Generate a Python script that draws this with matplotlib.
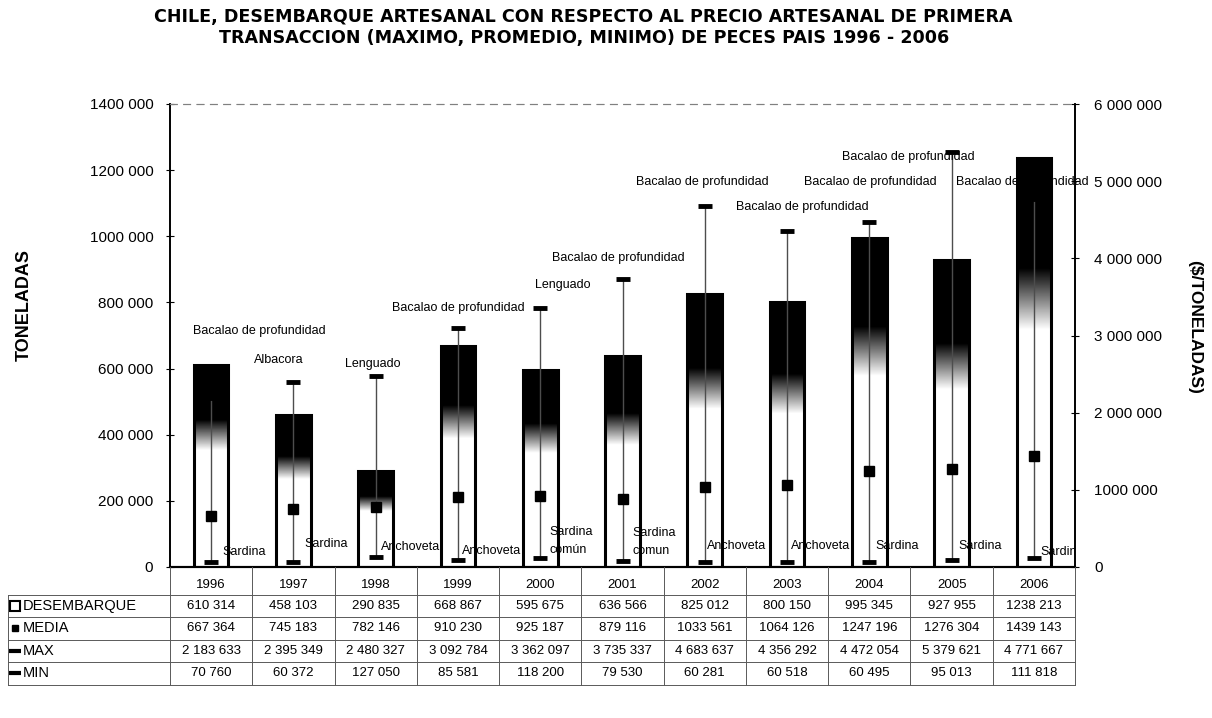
import numpy as np
import matplotlib
matplotlib.use('Agg')
import matplotlib.pyplot as plt
from matplotlib.transforms import blended_transform_factory
from matplotlib.lines import Line2D

plt.rcParams['font.family'] = ['Liberation Sans', 'DejaVu Sans']

# ---------------- data ----------------
years = ['1996', '1997', '1998', '1999', '2000', '2001', '2002', '2003', '2004', '2005', '2006']
desembarque = [610314, 458103, 290835, 668867, 595675, 636566, 825012, 800150, 995345, 927955, 1238213]
media = [667364, 745183, 782146, 910230, 925187, 879116, 1033561, 1064126, 1247196, 1276304, 1439143]
maximo = [2183633, 2395349, 2480327, 3092784, 3362097, 3735337, 4683637, 4356292, 4472054, 5379621, 4771667]
minimo = [70760, 60372, 127050, 85581, 118200, 79530, 60281, 60518, 60495, 95013, 111818]
max_species = ['Bacalao de profundidad', 'Albacora', 'Lenguado', 'Bacalao de profundidad', 'Lenguado',
               'Bacalao de profundidad', 'Bacalao de profundidad', 'Bacalao de profundidad',
               'Bacalao de profundidad', 'Bacalao de profundidad', 'Bacalao de profundidad']
min_species = ['Sardina', 'Sardina', 'Anchoveta', 'Anchoveta', 'Sardina\ncomún', 'Sardina\ncomun',
               'Anchoveta', 'Anchoveta', 'Sardina', 'Sardina', 'Sardina']
left_ticks = [0, 200000, 400000, 600000, 800000, 1000000, 1200000, 1400000]
left_ticklabels = ['0', '200 000', '400 000', '600 000', '800 000', '1000 000', '1200 000', '1400 000']
right_ticks = [0, 1000000, 2000000, 3000000, 4000000, 5000000, 6000000]
right_ticklabels = ['0', '1000 000', '2 000 000', '3 000 000', '4 000 000', '5 000 000', '6 000 000']
row_names = ['DESEMBARQUE', 'MEDIA', 'MAX', 'MIN']

# ---------------- style / layout ----------------
W, H = 1212, 718
max_offsets_px = [(48, 67), (-15, 22), (-3, 12), (0, 20), (23, 23), (-4, 21), (-2, 24),
                  (15, 24), (1, 40), (-43, -5), (-12, 17)]
min_offsets_px = [(11, 10), (11, 18), (5, 10), (4, 9), (9, 17), (10, 19), (2, 16), (4, 16),
                  (6, 16), (7, 14), (7, 6)]


def fmt(v):
    s = f"{v:,}".replace(',', ' ')
    if s.startswith('1 '):
        s = '1' + s[2:]
    return s


fig = plt.figure(figsize=(W / 100, H / 100), dpi=100)
ax_l, ax_r, ax_t, ax_b = 170, 1075, 104, 567
ax = fig.add_axes([ax_l / W, 1 - ax_b / H, (ax_r - ax_l) / W, (ax_b - ax_t) / H])
ax2 = ax.twinx()

n = len(years)
x = np.arange(n)
bw = 0.42

# gradient bars
f = np.linspace(0, 1, 256)
grad = np.clip((0.73 - f) / (0.73 - 0.58), 0, 1).reshape(-1, 1)
for i, v in enumerate(desembarque):
    ax.imshow(grad, extent=[x[i] - bw / 2, x[i] + bw / 2, 0, v], origin='lower',
              aspect='auto', cmap='gray', vmin=0, vmax=1, zorder=1, interpolation='bilinear')
ax.bar(x, desembarque, width=bw, facecolor='none', edgecolor='black', linewidth=2.2, zorder=2)

ax.set_xlim(-0.5, n - 0.5)
ax.set_ylim(0, 1400000)
ax2.set_ylim(0, 6000000)

# high-low lines
for i in range(n):
    ax2.plot([x[i], x[i]], [minimo[i], maximo[i]], color='0.3', lw=1, zorder=3)
ax2.plot(x, maximo, ls='none', marker='_', ms=10, mew=3.5, color='black', zorder=4)
ax2.plot(x, minimo, ls='none', marker='_', ms=10, mew=3.5, color='black', zorder=4)
ax2.plot(x, media, ls='none', marker='s', ms=7, color='black', zorder=4)

# labels
for i in range(n):
    dx, dy = max_offsets_px[i]
    ax2.annotate(max_species[i], xy=(x[i], maximo[i]), xytext=(dx * 0.72, dy * 0.72),
                 textcoords='offset points', ha='center', va='center', fontsize=9, zorder=5,
                 annotation_clip=False)
    dx, dy = min_offsets_px[i]
    t = ax2.annotate(min_species[i], xy=(x[i], minimo[i]), xytext=(dx * 0.72, dy * 0.72),
                     textcoords='offset points', ha='left', va='center', fontsize=9,
                     linespacing=1.7, zorder=5, annotation_clip=False)
    t.set_clip_box(ax2.bbox)
    t.set_clip_on(True)

# axes styling
ax.set_yticks(left_ticks)
ax.set_yticklabels(left_ticklabels, fontsize=11)
ax2.set_yticks(right_ticks)
ax2.set_yticklabels(right_ticklabels, fontsize=11)
ax.tick_params(axis='y', length=6, direction='inout', pad=9)
ax2.tick_params(axis='y', length=6, direction='inout', pad=11)
ax.set_xticks([])
ax2.set_xticks([])
for a in (ax, ax2):
    a.spines['top'].set_linestyle((0, (6, 6)))
    a.spines['top'].set_color('0.5')
    a.spines['top'].set_linewidth(0.8)
    a.spines['left'].set_linewidth(1.2)
    a.spines['right'].set_linewidth(1.2)
    a.spines['bottom'].set_linewidth(1.5)
ax.set_ylabel('TONELADAS', fontsize=13, fontweight='bold')
ax2.set_ylabel('($/TONELADAS)', fontsize=12.5, fontweight='bold', rotation=270)
ax.yaxis.set_label_coords((24 - ax_l) / (ax_r - ax_l), (ax_b - 305) / (ax_b - ax_t))
ax2.yaxis.set_label_coords((1195 - ax_l) / (ax_r - ax_l), (ax_b - 327) / (ax_b - ax_t))
ax.yaxis.label.set_va('center')
ax2.yaxis.label.set_va('center')
ax2.yaxis.label.set_ha('center')

# title
fig.text(583 / W, 1 - 17 / H, 'CHILE, DESEMBARQUE ARTESANAL CON RESPECTO AL PRECIO ARTESANAL DE PRIMERA',
         ha='center', va='center', fontsize=12.6, fontweight='bold', family='DejaVu Sans')
fig.text(584 / W, 1 - 38 / H, 'TRANSACCION (MAXIMO, PROMEDIO, MINIMO) DE PECES PAIS 1996 - 2006',
         ha='center', va='center', fontsize=12.6, fontweight='bold', family='DejaVu Sans')

# data table
bt = blended_transform_factory(ax.transData, fig.transFigure)
row_y = [606, 628, 651, 673]
series = [desembarque, media, maximo, minimo]
for i in range(n):
    fig.text(x[i], 1 - 585 / H, years[i], transform=bt, ha='center', va='center', fontsize=9.5)
    for r, vals in enumerate(series):
        fig.text(x[i], 1 - row_y[r] / H, fmt(vals[i]),
                 transform=bt, ha='center', va='center', fontsize=9.5)

for r, name in enumerate(row_names):
    fig.text(23 / W, 1 - row_y[r] / H, name, ha='left', va='center', fontsize=10.5)
# legend keys
kx = 15 / W
fig.add_artist(Line2D([kx], [1 - row_y[0] / H], transform=fig.transFigure, marker='s', ms=7,
                      mfc='white', mec='black', mew=1.5, ls='none'))
fig.add_artist(Line2D([kx], [1 - row_y[1] / H], transform=fig.transFigure, marker='s', ms=5,
                      color='black', ls='none'))
for r in (2, 3):
    fig.add_artist(Line2D([kx], [1 - row_y[r] / H], transform=fig.transFigure, marker='_', ms=8,
                          mew=3, color='black', ls='none'))

# table grid
for yy in [595, 617, 640, 662, 685]:
    fig.add_artist(Line2D([8 / W, ax_r / W], [1 - yy / H, 1 - yy / H], transform=fig.transFigure,
                          color='0.35', lw=0.7))
for b in np.arange(-0.5, n, 1.0):
    fig.add_artist(Line2D([b, b], [1 - ax_b / H, 1 - 685 / H], transform=bt, color='0.35', lw=0.7))
fig.add_artist(Line2D([8 / W, 8 / W], [1 - 595 / H, 1 - 685 / H], transform=fig.transFigure,
                      color='0.35', lw=0.7))

fig.savefig('out.png', dpi=100)
